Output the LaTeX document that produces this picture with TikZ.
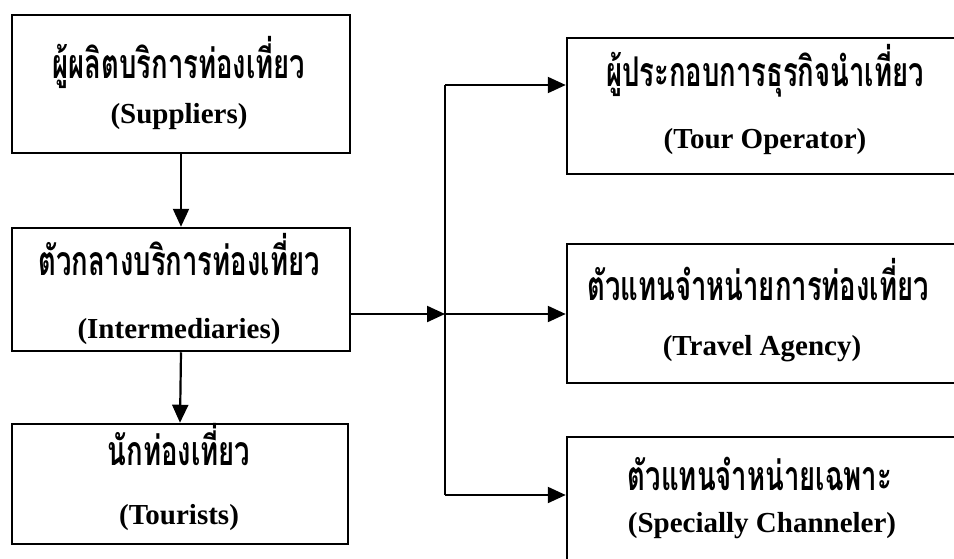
\documentclass[tikz,border=0pt]{standalone}
\usepackage{fontspec}
\setmainfont{Liberation Serif}
\newfontfamily\thaifont[Script=Thai,FakeStretch=0.67]{Loma}
\usetikzlibrary{arrows.meta}

\tikzset{
  box/.style={draw, line width=2.5pt, rectangle, inner sep=0pt},
  thline/.style={anchor=base, inner sep=0pt, font=\thaifont\bfseries\fontsize{41}{41}\selectfont},
  enline/.style={anchor=base, inner sep=0pt, font=\bfseries\fontsize{29}{29}\selectfont},
  arr/.style={line width=2.2pt, -{Triangle[length=18pt,width=16pt]}},
  link/.style={line width=2.2pt},
}

\begin{document}
\begin{tikzpicture}[x=1pt,y=-1pt]
  \useasboundingbox (0,0) rectangle (954,558);
  \clip (0,0) rectangle (954,558);
  % left column
  \node[box, minimum width=338, minimum height=138] (sup) at (181,84) {};
  \node[box, minimum width=338, minimum height=123] (mid) at (181,289.5) {};
  \node[box, minimum width=336, minimum height=120] (tou) at (180,484) {};
  \node[thline] (supth) at (179,78) {ผู้ผลิตบริการท่องเที่ยว};
  \node[enline] (supen) at (179,123) {(Suppliers)};
  \node[thline] (midth) at (179,275) {ตัวกลางบริการท่องเที่ยว};
  \node[enline] (miden) at (179,338) {(Intermediaries)};
  \node[thline] (touth) at (179,465) {นักท่องเที่ยว};
  \node[enline] (touen) at (179,524) {(Tourists)};
  % right column
  \node[box, minimum width=420, minimum height=136] (ope) at (777,106) {};
  \node[box, minimum width=420, minimum height=139] (agn) at (777,313.5) {};
  \node[box, minimum width=420, minimum height=140] (chn) at (777,507) {};
  \node[thline] (opeth) at (765,86) {ผู้ประกอบการธุรกิจนำเที่ยว};
  \node[enline] (opeen) at (765,148) {(Tour Operator)};
  \node[thline] (agnth) at (758,300) {ตัวแทนจำหน่ายการท่องเที่ยว};
  \node[enline] (agnen) at (762,355) {(Travel Agency)};
  \node[thline] (chnth) at (760,490) {ตัวแทนจำหน่ายเฉพาะ};
  \node[enline] (chnen) at (762,532) {(Specially Channeler)};
  % connectors
  \coordinate (jt) at (445,85);
  \coordinate (jm) at (445,314);
  \coordinate (jb) at (445,495);
  \draw[arr] (sup.south) -- (mid.north);
  \draw[arr] (mid.south) -- (tou.north);
  \draw[arr] (mid.east |- jm) -- (jm);
  \draw[link] (jt) -- (jb);
  \draw[arr] (jt) -- (ope.west |- jt);
  \draw[arr] (jm) -- (agn.west |- jm);
  \draw[arr] (jb) -- (chn.west |- jb);
\end{tikzpicture}
\end{document}
